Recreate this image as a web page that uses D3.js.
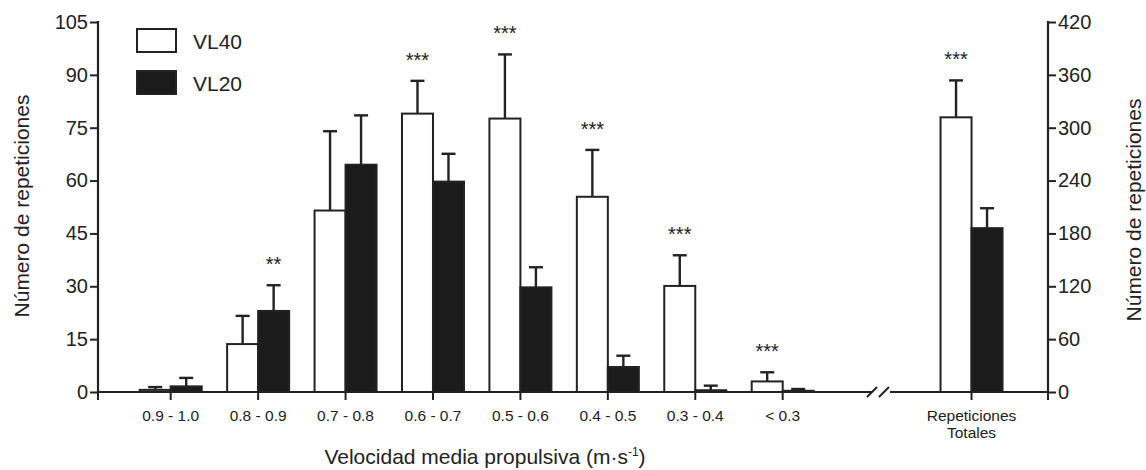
<!DOCTYPE html>
<html>
<head>
<meta charset="utf-8">
<script src="https://cdn.jsdelivr.net/npm/d3@7"></script>
<style>
  body { margin: 0; background: #fff; }
  svg text { font-family: "Liberation Sans", Arial, sans-serif; fill: #222; }
</style>
</head>
<body>
<div id="chart"></div>
<script>
// data
const categories = ["0.9 - 1.0", "0.8 - 0.9", "0.7 - 0.8", "0.6 - 0.7", "0.5 - 0.6", "0.4 - 0.5", "0.3 - 0.4", "< 0.3"];
const vl40 = [0.6, 13.6, 51.5, 79.0, 77.6, 55.4, 30.1, 3.0];
const vl40Err = [1.4, 21.6, 74.0, 88.3, 95.8, 68.7, 38.8, 5.6];
const vl20 = [1.6, 23.0, 64.5, 59.7, 29.7, 7.1, 0.5, 0.3];
const vl20Err = [4.0, 30.3, 78.5, 67.6, 35.4, 10.3, 1.8, 0.85];
const stars = ["", "**", "", "***", "***", "***", "***", "***"];

const totalLabel = ["Repeticiones", "Totales"];
const totals = [311.8, 186.0];
const totalsErr = [353.7, 208.6];
const totalStars = "***";

const leftTicks = [0, 15, 30, 45, 60, 75, 90, 105];
const rightTicks = [0, 60, 120, 180, 240, 300, 360, 420];
const seriesNames = ["VL40", "VL20"];

const W = 1146, H = 470;
const x0 = 98, x1 = 1048, y0 = 392, yTop = 22;
const barW = 31;
const black = "#1b1b1b";

const svg = d3.select("#chart").append("svg")
  .attr("width", W)
  .attr("height", H);

const x = d3.scaleLinear().domain([0, 7]).range([170.7, 782.7]);
const xTot = x(9.16);
const y = d3.scaleLinear().domain([0, 105]).range([y0, yTop]);
const yR = d3.scaleLinear().domain([0, 420]).range([y0, yTop]);

//axes
const leftAxis = d3.axisLeft(y).tickValues(leftTicks).tickSize(8).tickPadding(2);
const gl = svg.append("g").attr("transform", "translate(" + x0 + ",0)").call(leftAxis);
const rightAxis = d3.axisRight(yR).tickValues(rightTicks).tickSize(8).tickPadding(2);
const gr = svg.append("g").attr("transform", "translate(" + x1 + ",0)").call(rightAxis);
[gl, gr].forEach(g => {
  g.select(".domain").remove();
  g.selectAll(".tick line").attr("stroke", "#222").attr("stroke-width", 2);
  g.selectAll(".tick text").style("font-size", "20px").attr("fill", "#222");
});
svg.append("line").attr("x1", x0).attr("x2", x0).attr("y1", yTop - 1).attr("y2", y0 + 1)
  .attr("stroke", "#222").attr("stroke-width", 2.2);
svg.append("line").attr("x1", x1).attr("x2", x1).attr("y1", yTop - 1).attr("y2", y0 + 1)
  .attr("stroke", "#222").attr("stroke-width", 2.2);

//bars
function drawBar(cx, v, err, sc, filled, side) {
  const bx = side === 0 ? cx - barW : cx;
  const h = Math.max(y0 - sc(v), 1.2);
  svg.append("line")
    .attr("x1", bx + barW / 2).attr("x2", bx + barW / 2)
    .attr("y1", sc(v)).attr("y2", sc(err))
    .attr("stroke", "#222").attr("stroke-width", 2.4);
  svg.append("line")
    .attr("x1", bx + barW / 2 - 7).attr("x2", bx + barW / 2 + 7)
    .attr("y1", sc(err)).attr("y2", sc(err))
    .attr("stroke", "#222").attr("stroke-width", 2.4);
  svg.append("rect")
    .attr("x", bx).attr("y", y0 - h)
    .attr("width", barW).attr("height", h)
    .attr("fill", filled ? black : "#fff")
    .attr("stroke", "#222").attr("stroke-width", 2);
}

categories.forEach((c, i) => {
  drawBar(x(i), vl40[i], vl40Err[i], y, false, 0);
  drawBar(x(i), vl20[i], vl20Err[i], y, true, 1);
});
drawBar(xTot, totals[0], totalsErr[0], yR, false, 0);
drawBar(xTot, totals[1], totalsErr[1], yR, true, 1);

//significance stars
const starGap = 14;
svg.selectAll(".star").data(categories).join("text")
  .attr("class", "star")
  .attr("x", (d, i) => stars[i] === "**" ? x(i) + barW / 2 : x(i) - barW / 2)
  .attr("y", (d, i) => stars[i] === "**" ? y(vl20Err[i]) - starGap : y(vl40Err[i]) - starGap)
  .attr("text-anchor", "middle")
  .style("font-size", "20px")
  .text((d, i) => stars[i]);
svg.append("text")
  .attr("x", xTot - barW / 2).attr("y", yR(totalsErr[0]) - starGap)
  .attr("text-anchor", "middle").style("font-size", "20px")
  .text(totalStars);

//x axis with break
const brk = 876;
svg.append("line").attr("x1", x0 - 1).attr("x2", brk - 4).attr("y1", y0).attr("y2", y0)
  .attr("stroke", "#222").attr("stroke-width", 2.2);
svg.append("line").attr("x1", brk + 14).attr("x2", x1 + 1).attr("y1", y0).attr("y2", y0)
  .attr("stroke", "#222").attr("stroke-width", 2.2);
[brk - 4, brk + 8].forEach(bx => {
  svg.append("line").attr("x1", bx - 5).attr("x2", bx + 5).attr("y1", y0 + 5).attr("y2", y0 - 5)
    .attr("stroke", "#222").attr("stroke-width", 2);
});
const xticks = categories.map((c, i) => x(i)).concat([x0, xTot, x1]);
svg.selectAll(".xtick").data(xticks).join("line")
  .attr("class", "xtick")
  .attr("x1", d => d).attr("x2", d => d)
  .attr("y1", y0).attr("y2", y0 + 8)
  .attr("stroke", "#222").attr("stroke-width", 2);

svg.selectAll(".xlab").data(categories).join("text")
  .attr("class", "xlab")
  .attr("x", (d, i) => x(i)).attr("y", 421)
  .attr("text-anchor", "middle")
  .style("font-size", "15.5px")
  .text(d => d);
svg.selectAll(".totlab").data(totalLabel).join("text")
  .attr("class", "totlab")
  .attr("x", xTot).attr("y", (d, i) => 421 + i * 17)
  .attr("text-anchor", "middle")
  .style("font-size", "15.5px")
  .text(d => d);

//titles
const xt = svg.append("text").attr("x", 485).attr("y", 464)
  .attr("text-anchor", "middle").style("font-size", "21px");
xt.append("tspan").text("Velocidad media propulsiva (m·s");
xt.append("tspan").attr("dy", -8).style("font-size", "12px").text("-1");
xt.append("tspan").attr("dy", 8).text(")");

svg.append("text")
  .attr("transform", "translate(29,206) rotate(-90)")
  .attr("text-anchor", "middle").style("font-size", "21px")
  .text("Número de repeticiones");
svg.append("text")
  .attr("transform", "translate(1141,210) rotate(-90)")
  .attr("text-anchor", "middle").style("font-size", "21px")
  .text("Número de repeticiones");

//legend
const leg = svg.append("g").attr("transform", "translate(137,29)");
seriesNames.forEach((s, i) => {
  leg.append("rect").attr("x", 0).attr("y", i * 42)
    .attr("width", 39).attr("height", 23)
    .attr("fill", i === 0 ? "#fff" : black)
    .attr("stroke", "#222").attr("stroke-width", 2);
  leg.append("text").attr("x", 56).attr("y", i * 42 + 20)
    .style("font-size", "21px").text(s);
});
</script>
</body>
</html>
